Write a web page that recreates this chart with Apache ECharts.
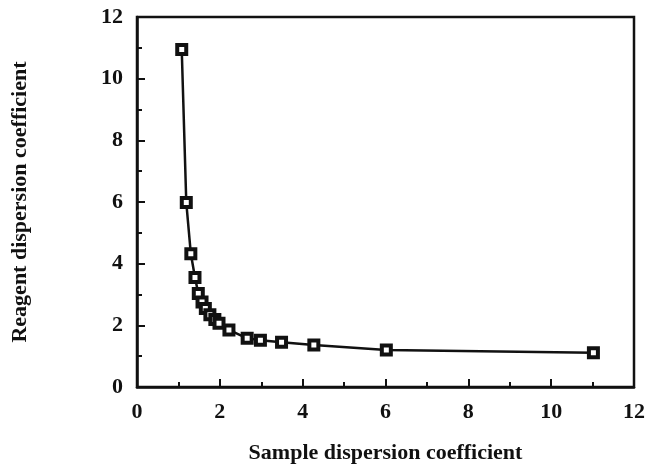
<!DOCTYPE html>
<html>
<head>
<meta charset="utf-8">
<script src="https://cdn.jsdelivr.net/npm/echarts@6/dist/echarts.min.js"></script>
<style>
  html, body { margin: 0; padding: 0; background: #fff; }
  #chart { width: 649px; height: 465px; }
</style>
</head>
<body>
<div id="chart"></div>
<script>
// values
var sampleDispersion = [1.08, 1.19, 1.3, 1.4, 1.48, 1.57, 1.65, 1.76, 1.88, 1.98, 2.22, 2.66, 2.98, 3.49, 4.27, 6.02, 11.02];
var reagentDispersion = [10.95, 5.98, 4.32, 3.55, 3.03, 2.76, 2.55, 2.34, 2.19, 2.07, 1.85, 1.58, 1.52, 1.45, 1.36, 1.2, 1.11];

var serif = '"Liberation Serif", "DejaVu Serif", serif';

var points = sampleDispersion.map(function (x, i) {
  return [x, reagentDispersion[i]];
});

var axisCommon = {
  min: 0,
  max: 12,
  interval: 2,
  axisLine: { show: true, lineStyle: { color: '#111', width: 2.5 } },
  axisTick: { show: true, inside: true, length: 8, lineStyle: { color: '#111', width: 2 } },
  minorTick: { show: true, splitNumber: 2, length: 5, lineStyle: { color: '#111', width: 2 } },
  splitLine: { show: false },
  axisLabel: { color: '#111', fontFamily: serif, fontSize: 22, fontWeight: 'bold' },
  nameLocation: 'middle',
  nameTextStyle: { color: '#111', fontFamily: serif, fontSize: 22, fontWeight: 'bold' }
};

var myChart = echarts.init(document.getElementById('chart'));
myChart.setOption({
  backgroundColor: '#fff',
  animation: false,
  grid: {
    left: 137,
    right: 15,
    top: 17,
    bottom: 78,
    outerBoundsMode: 'none',
    show: true,
    borderColor: '#111',
    borderWidth: 2.5
  },
  xAxis: Object.assign({}, axisCommon, {
    type: 'value',
    name: 'Sample dispersion coefficient',
    nameGap: 55,
    axisLabel: Object.assign({}, axisCommon.axisLabel, { margin: 14 })
  }),
  yAxis: Object.assign({}, axisCommon, {
    type: 'value',
    name: 'Reagent dispersion coefficient',
    nameGap: 106,
    axisLabel: Object.assign({}, axisCommon.axisLabel, { margin: 14 })
  }),
  series: [{
    type: 'line',
    data: points,
    symbol: 'rect',
    symbolSize: 9,
    showAllSymbol: true,
    lineStyle: { color: '#111', width: 2.5 },
    itemStyle: { color: '#fff', borderColor: '#111', borderWidth: 4 }
  }]
});
</script>
</body>
</html>
